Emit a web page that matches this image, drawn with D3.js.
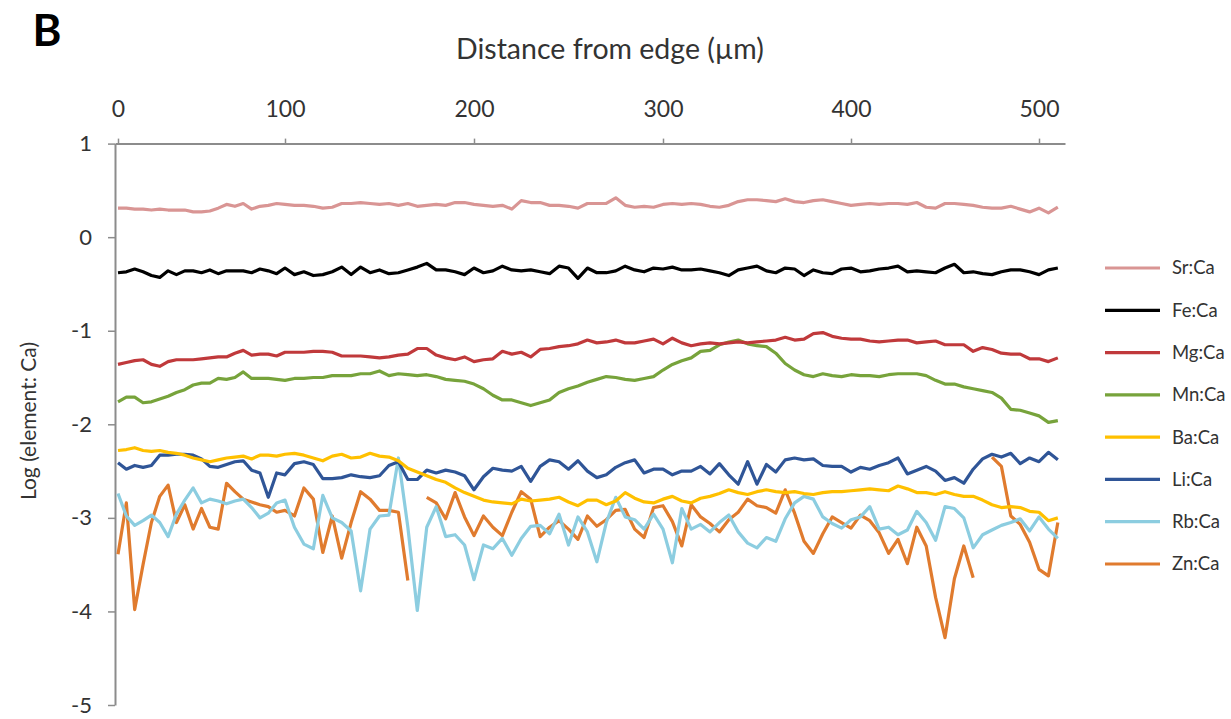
<!DOCTYPE html>
<html>
<head>
<meta charset="utf-8">
<script src="https://cdn.jsdelivr.net/npm/d3@7"></script>
<style>
  html, body { margin: 0; padding: 0; background: #fff; }
  svg { display: block; }
  text { font-family: Lato, "Open Sans", sans-serif; fill: #333; }
</style>
</head>
<body>
<svg id="chart" width="1231" height="719"></svg>
<script>
// Distance from edge (µm) for each sample
const distances = [0,5,10,15,20,25,30,35,40,45,50,55,60,65,70,75,80,85,90,95,
  100,105,110,115,120,125,130,135,140,145,150,155,160,165,170,175,180,185,190,195,
  200,205,210,215,220,225,230,235,240,245,250,255,260,265,270,275,280,285,290,295,
  300,305,310,315,320,325,330,335,340,345,350,355,360,365,370,375,380,385,390,395,
  400,405,410,415,420,425,430,435,440,445,450,455,460,465,470,475,480,485,490,495,
  500,505,510];

const xTickLabels = [0, 100, 200, 300, 400, 500];
const yTickLabels = [1, 0, -1, -2, -3, -4, -5];

const seriesNames = ["Sr:Ca","Fe:Ca","Mg:Ca","Mn:Ca","Ba:Ca","Li:Ca","Rb:Ca","Zn:Ca"];

const srCa = [0.31,0.31,0.30,0.30,0.29,0.30,0.29,0.29,0.29,0.27,0.27,0.28,0.31,0.35,0.33,0.36,0.30,0.33,0.34,0.36,
  0.35,0.34,0.34,0.33,0.31,0.32,0.36,0.36,0.37,0.36,0.35,0.36,0.34,0.36,0.33,0.34,0.35,0.34,0.37,0.37,
  0.35,0.34,0.33,0.34,0.30,0.39,0.37,0.37,0.34,0.34,0.33,0.31,0.36,0.36,0.36,0.42,0.34,0.32,0.33,0.32,
  0.35,0.36,0.35,0.36,0.35,0.33,0.32,0.34,0.38,0.40,0.40,0.39,0.38,0.41,0.38,0.37,0.39,0.40,0.38,0.36,
  0.34,0.35,0.36,0.35,0.36,0.36,0.35,0.37,0.32,0.31,0.36,0.36,0.35,0.34,0.32,0.31,0.31,0.33,0.30,0.27,
  0.31,0.26,0.32];

const feCa = [-0.38,-0.37,-0.34,-0.37,-0.41,-0.43,-0.36,-0.40,-0.36,-0.36,-0.38,-0.35,-0.39,-0.36,-0.36,-0.36,-0.38,-0.34,-0.36,-0.39,
  -0.33,-0.40,-0.37,-0.41,-0.40,-0.37,-0.32,-0.40,-0.32,-0.38,-0.35,-0.39,-0.38,-0.35,-0.32,-0.28,-0.35,-0.35,-0.37,-0.40,
  -0.33,-0.38,-0.36,-0.31,-0.35,-0.36,-0.35,-0.37,-0.39,-0.31,-0.33,-0.44,-0.33,-0.38,-0.38,-0.36,-0.31,-0.35,-0.37,-0.33,
  -0.34,-0.32,-0.35,-0.35,-0.34,-0.36,-0.38,-0.41,-0.35,-0.33,-0.31,-0.36,-0.38,-0.33,-0.34,-0.41,-0.35,-0.38,-0.39,-0.34,
  -0.33,-0.37,-0.36,-0.34,-0.33,-0.31,-0.37,-0.36,-0.37,-0.38,-0.33,-0.29,-0.38,-0.37,-0.39,-0.40,-0.37,-0.35,-0.35,-0.37,
  -0.40,-0.35,-0.33];

const mgCa = [-1.36,-1.34,-1.32,-1.31,-1.36,-1.38,-1.33,-1.31,-1.31,-1.31,-1.30,-1.29,-1.28,-1.28,-1.24,-1.21,-1.26,-1.25,-1.25,-1.27,
  -1.23,-1.23,-1.23,-1.22,-1.22,-1.23,-1.27,-1.27,-1.27,-1.28,-1.29,-1.28,-1.26,-1.25,-1.19,-1.19,-1.26,-1.29,-1.31,-1.28,
  -1.33,-1.31,-1.30,-1.22,-1.25,-1.23,-1.28,-1.20,-1.19,-1.17,-1.16,-1.14,-1.10,-1.13,-1.12,-1.10,-1.13,-1.13,-1.11,-1.09,
  -1.14,-1.08,-1.13,-1.16,-1.14,-1.13,-1.14,-1.13,-1.12,-1.13,-1.12,-1.11,-1.10,-1.07,-1.10,-1.09,-1.03,-1.02,-1.06,-1.08,
  -1.09,-1.09,-1.11,-1.12,-1.11,-1.10,-1.10,-1.13,-1.12,-1.11,-1.15,-1.15,-1.15,-1.22,-1.18,-1.20,-1.24,-1.25,-1.25,-1.30,
  -1.30,-1.33,-1.29];

const mnCa = [-1.76,-1.71,-1.71,-1.77,-1.76,-1.73,-1.70,-1.66,-1.63,-1.58,-1.56,-1.56,-1.51,-1.52,-1.50,-1.44,-1.51,-1.51,-1.51,-1.52,
  -1.53,-1.51,-1.51,-1.50,-1.50,-1.48,-1.48,-1.48,-1.46,-1.46,-1.43,-1.48,-1.46,-1.47,-1.48,-1.47,-1.49,-1.52,-1.53,-1.54,
  -1.57,-1.62,-1.69,-1.74,-1.74,-1.77,-1.80,-1.77,-1.74,-1.66,-1.62,-1.59,-1.55,-1.52,-1.49,-1.50,-1.52,-1.53,-1.51,-1.49,
  -1.42,-1.36,-1.32,-1.29,-1.22,-1.21,-1.15,-1.12,-1.10,-1.14,-1.16,-1.17,-1.24,-1.35,-1.42,-1.47,-1.49,-1.46,-1.48,-1.49,
  -1.47,-1.48,-1.48,-1.49,-1.47,-1.46,-1.46,-1.46,-1.48,-1.53,-1.57,-1.57,-1.60,-1.62,-1.64,-1.66,-1.72,-1.84,-1.85,-1.88,
  -1.91,-1.98,-1.96];

const baCa = [-2.28,-2.27,-2.25,-2.28,-2.29,-2.28,-2.30,-2.31,-2.33,-2.36,-2.38,-2.40,-2.38,-2.36,-2.35,-2.34,-2.37,-2.33,-2.33,-2.34,
  -2.32,-2.31,-2.33,-2.36,-2.39,-2.34,-2.32,-2.36,-2.35,-2.31,-2.34,-2.35,-2.39,-2.47,-2.51,-2.55,-2.59,-2.62,-2.68,-2.73,
  -2.77,-2.81,-2.83,-2.84,-2.85,-2.80,-2.82,-2.81,-2.80,-2.78,-2.83,-2.87,-2.81,-2.81,-2.86,-2.82,-2.73,-2.79,-2.83,-2.84,
  -2.80,-2.77,-2.82,-2.84,-2.79,-2.77,-2.74,-2.70,-2.73,-2.75,-2.72,-2.70,-2.72,-2.73,-2.72,-2.74,-2.75,-2.73,-2.72,-2.72,
  -2.71,-2.70,-2.69,-2.70,-2.71,-2.66,-2.69,-2.73,-2.73,-2.75,-2.72,-2.75,-2.77,-2.77,-2.81,-2.86,-2.89,-2.88,-2.89,-2.93,
  -2.94,-3.03,-3.00];

const liCa = [-2.41,-2.48,-2.44,-2.46,-2.44,-2.33,-2.33,-2.32,-2.32,-2.33,-2.37,-2.45,-2.46,-2.43,-2.40,-2.39,-2.49,-2.52,-2.78,-2.52,
  -2.54,-2.42,-2.40,-2.43,-2.58,-2.58,-2.57,-2.54,-2.56,-2.57,-2.55,-2.44,-2.40,-2.59,-2.59,-2.49,-2.52,-2.49,-2.51,-2.55,
  -2.70,-2.56,-2.47,-2.49,-2.50,-2.45,-2.61,-2.45,-2.38,-2.40,-2.48,-2.39,-2.50,-2.57,-2.54,-2.46,-2.41,-2.38,-2.52,-2.48,
  -2.48,-2.54,-2.50,-2.50,-2.45,-2.53,-2.42,-2.54,-2.64,-2.40,-2.64,-2.43,-2.51,-2.38,-2.36,-2.38,-2.37,-2.44,-2.45,-2.45,
  -2.51,-2.46,-2.48,-2.44,-2.41,-2.36,-2.53,-2.49,-2.45,-2.50,-2.60,-2.57,-2.63,-2.48,-2.37,-2.32,-2.35,-2.31,-2.42,-2.36,
  -2.40,-2.30,-2.38];

const rbCa = [-2.74,-2.98,-3.08,-3.03,-2.97,-3.05,-3.20,-2.96,-2.81,-2.68,-2.84,-2.80,-2.82,-2.85,-2.82,-2.80,-2.89,-3.00,-2.95,-2.84,
  -2.81,-3.10,-3.28,-3.33,-2.76,-3.00,-3.05,-3.14,-3.78,-3.12,-2.98,-2.97,-2.36,-3.10,-3.99,-3.10,-2.88,-3.20,-3.18,-3.29,
  -3.66,-3.29,-3.33,-3.22,-3.40,-3.22,-3.09,-3.08,-3.17,-2.96,-3.29,-2.99,-3.15,-3.47,-3.05,-2.78,-2.99,-3.02,-3.12,-2.96,
  -3.12,-3.48,-2.90,-3.12,-3.07,-3.15,-3.05,-2.97,-3.15,-3.27,-3.32,-3.21,-3.25,-3.01,-2.84,-2.77,-2.80,-2.99,-3.06,-3.11,
  -3.02,-2.99,-2.88,-3.12,-3.10,-3.18,-3.13,-2.93,-3.05,-3.24,-2.88,-2.90,-3.00,-3.32,-3.18,-3.13,-3.08,-3.05,-3.01,-3.14,
  -2.99,-3.12,-3.22];

const znCa = [-3.39,-2.84,-3.98,-3.50,-3.05,-2.77,-2.65,-3.05,-2.86,-3.12,-2.90,-3.10,-3.12,-2.63,-2.72,-2.80,-2.83,-2.86,-2.88,-2.94,
  -2.92,-2.98,-2.68,-2.80,-3.37,-2.98,-3.43,-3.05,-2.72,-2.80,-2.92,-2.92,-2.94,-3.67,null,-2.78,-2.84,-3.01,-2.73,-2.99,
  -3.19,-2.98,-3.10,-3.19,-2.94,-2.72,-2.80,-3.20,-3.10,-3.03,-3.12,-3.23,-2.98,-3.09,-3.02,-2.92,-2.91,-3.12,-3.21,-2.89,
  -2.87,-3.04,-3.30,-2.86,-2.99,-3.06,-3.15,-3.02,-2.94,-2.80,-2.87,-2.89,-2.95,-2.70,-2.95,-3.25,-3.38,-3.17,-2.99,-3.05,
  -3.11,-2.97,-3.03,-3.16,-3.38,-3.23,-3.49,-3.10,-3.30,-3.85,-4.28,-3.65,-3.30,-3.64,null,-2.35,-2.45,-2.98,-3.07,-3.26,
  -3.55,-3.62,-3.05];

const seriesValues = [srCa, feCa, mgCa, mnCa, baCa, liCa, rbCa, znCa];
const seriesColors = ["#d99594","#000000","#c0393b","#77a33b","#ffc000","#2f5597","#8ccde0","#e07b2e"];

const svg = d3.select("#chart");

// Scales
const x = d3.scaleLinear()
  .domain([-1.8, 0, 100, 200, 300, 400, 500, 513.8])
  .range([115, 118, 285, 474, 663, 851, 1039, 1065]);
const y = d3.scaleLinear().domain([-5, 1]).range([705, 143.6]);

const axisColor = "#8c8c8c";

// Top x axis
const xAxis = d3.axisTop(x).tickValues(xTickLabels).tickSize(5).tickSizeOuter(0).tickPadding(22);
const gx = svg.append("g").attr("transform", `translate(0,${y(1)})`).call(xAxis);
gx.select(".domain").attr("stroke", axisColor).attr("stroke-width", 2);
gx.selectAll(".tick line").attr("stroke", axisColor).attr("stroke-width", 1.5);
gx.selectAll(".tick text").attr("font-size", 23).attr("fill", "#333").style("font-family", "Lato, sans-serif");

// Left y axis
const yAxis = d3.axisLeft(y).tickValues(yTickLabels).tickSize(7).tickSizeOuter(0).tickPadding(16)
  .tickFormat(d => d < 0 ? "-" + Math.abs(d) : String(d));
const gy = svg.append("g").attr("transform", `translate(${x(-1.8)},0)`).call(yAxis);
gy.select(".domain").attr("stroke", axisColor).attr("stroke-width", 2);
gy.selectAll(".tick line").attr("stroke", axisColor).attr("stroke-width", 1.5);
gy.selectAll(".tick text").attr("font-size", 22).attr("fill", "#333").style("font-family", "Lato, sans-serif");

// Titles
svg.append("text").attr("x", 47).attr("y", 46).attr("font-size", 44).attr("font-weight", "bold")
  .attr("text-anchor", "middle").style("fill", "#000").text("B");
svg.append("text").attr("x", 610).attr("y", 59).attr("font-size", 28.5).attr("text-anchor", "middle")
  .text("Distance from edge (µm)");
svg.append("text").attr("transform", "translate(36,421) rotate(-90)").attr("font-size", 21)
  .attr("text-anchor", "middle").text("Log (element: Ca)");

// Lines
const line = d3.line()
  .defined(d => d.v !== null)
  .x(d => x(d.d))
  .y(d => y(d.v));

const order = [7,6,5,4,3,2,1,0];
order.forEach(i => {
  const data = distances.map((d, k) => ({ d: d, v: seriesValues[i][k] }));
  svg.append("path")
    .datum(data)
    .attr("fill", "none")
    .attr("stroke", seriesColors[i])
    .attr("stroke-width", 3.2)
    .attr("stroke-linejoin", "round")
    .attr("d", line);
});

// Legend
const legendY = d3.scalePoint().domain(seriesNames).range([268, 564]);
const lg = svg.append("g");
seriesNames.forEach((name, i) => {
  const yy = legendY(name);
  lg.append("line").attr("x1", 1105).attr("x2", 1160).attr("y1", yy).attr("y2", yy)
    .attr("stroke", seriesColors[i]).attr("stroke-width", 3.2);
  lg.append("text").attr("x", 1172).attr("y", yy).attr("dy", "0.35em").attr("font-size", 18.5).text(name);
});
</script>
</body>
</html>
